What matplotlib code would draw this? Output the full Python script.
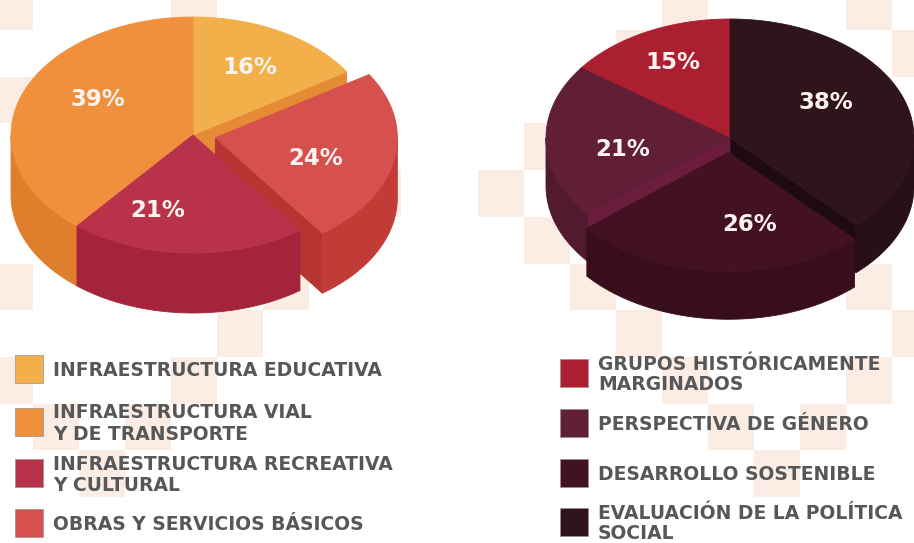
import numpy as np
import matplotlib
matplotlib.use("Agg")
import matplotlib.pyplot as plt
from matplotlib.patches import Polygon, Rectangle

# ---- data -------------------------------------------------------------
left_labels = ["INFRAESTRUCTURA EDUCATIVA",
               "INFRAESTRUCTURA VIAL\nY DE TRANSPORTE",
               "INFRAESTRUCTURA RECREATIVA\nY CULTURAL",
               "OBRAS Y SERVICIOS BÁSICOS"]
left_values = [16, 39, 21, 24]
left_top = ["#F3B04A", "#F0903D", "#B8324A", "#D6504D"]
left_side = ["#E6963C", "#DF7F2E", "#A4243B", "#C33B37"]
left_face = ["#E58A35", "#D7772B", "#9A2036", "#B63431"]
left_pie_order = [0, 3, 2, 1]          # clockwise from 12 o'clock
left_explode = [0, 0, 0, 0.125]

right_labels = ["GRUPOS HISTÓRICAMENTE\nMARGINADOS",
                "PERSPECTIVA DE GÉNERO",
                "DESARROLLO SOSTENIBLE",
                "EVALUACIÓN DE LA POLÍTICA\nSOCIAL"]
right_values = [15, 21, 26, 38]
right_top = ["#AB1F30", "#601F37", "#421222", "#2F141B"]
right_side = ["#951A29", "#521A2F", "#380E1C", "#27101A"]
right_face = ["#8C1826", "#6C1C3D", "#300C18", "#1D0B11"]
right_pie_order = [3, 2, 1, 0]
right_explode = [0, 0, 0.12, 0]

# label placement inside each wedge: (angle shift in degrees, radius fraction)
left_label_pos = [(0, 0.65), (10, 0.60), (15, 0.67), (7, 0.58)]
right_label_pos = [(1, 0.71), (-8, 0.59), (-14, 0.62), (-8, 0.60)]

LEGEND_TEXT = "#57575A"
PEACH = "#FBEDE3"

# ---- figure -----------------------------------------------------------
W, H = 914, 543
fig = plt.figure(figsize=(W / 100, H / 100), dpi=100)
ax = fig.add_axes([0, 0, 1, 1])
ax.set_xlim(0, W)
ax.set_ylim(H, 0)
ax.axis("off")

# checkered backdrop
CW, CH = 46.0, 46.7
left_cells = [(-1, -1), (-1, 1), (3, -1), (-1, 5), (5, 5), (4, 6), (-1, 7),
              (3, 7), (0, 8), (2, 8), (1, 9), (7, 3)]
right_cells = [(1, 2), (0, 3), (1, 4), (2, 5), (3, 6), (4, -1), (3, 0),
               (8, -1), (9, 0), (8, 5), (9, 6), (4, 7), (5, 8), (6, 9),
               (7, 8), (8, 7)]
for (x0, y0, cells) in [(33, 30, left_cells), (478, 30, right_cells)]:
    for i, j in cells:
        ax.add_patch(Rectangle((x0 + i * CW, y0 + j * CH), CW, CH,
                               facecolor=PEACH, edgecolor="none", zorder=0))


def pt(cx, cy, rx, ry, theta, r=1.0):
    t = np.radians(theta)
    return cx + r * rx * np.sin(t), cy - r * ry * np.cos(t)


def arc(cx, cy, rx, ry, a0, a1, n=None):
    if n is None:
        n = max(int(abs(a1 - a0) * 1.5), 2)
    t = np.radians(np.linspace(a0, a1, n))
    return np.column_stack([cx + rx * np.sin(t), cy - ry * np.cos(t)])


def pie3d(values, order, explode, top, side, face, label_pos,
          cx, cy, rx, ry, depth, z=1):
    total = float(sum(values))
    wedges = []
    a = 0.0
    for k in order:
        span = 360.0 * values[k] / total
        wedges.append((k, a, a + span))
        a += span
    # draw back-to-front
    wedges.sort(key=lambda w: -np.cos(np.radians((w[1] + w[2]) / 2)))
    zz = z
    for k, a0, a1 in wedges:
        am = (a0 + a1) / 2
        e = explode[k]
        ox, oy = e * rx * np.sin(np.radians(am)), -e * ry * np.cos(np.radians(am))
        ccx, ccy = cx + ox, cy + oy
        # radial faces that point toward the viewer
        for ang, normal in [(a0, a0 - 90), (a1, a1 + 90)]:
            if np.cos(np.radians(normal)) < 0:
                px, py = pt(ccx, ccy, rx, ry, ang)
                poly = [(ccx, ccy), (px, py), (px, py + depth), (ccx, ccy + depth)]
                ax.add_patch(Polygon(poly, closed=True, facecolor=face[k],
                                     edgecolor=face[k], lw=0.6, zorder=zz))
        # outer wall on the front half
        s0, s1 = max(a0, 90), min(a1, 270)
        if s1 > s0:
            upper = arc(ccx, ccy, rx, ry, s0, s1)
            lower = upper[::-1] + np.array([0, depth])
            ax.add_patch(Polygon(np.vstack([upper, lower]), closed=True,
                                 facecolor=side[k], edgecolor=side[k],
                                 lw=0.6, zorder=zz))
        # top surface
        rim = arc(ccx, ccy, rx, ry, a0, a1)
        ax.add_patch(Polygon(np.vstack([[ccx, ccy], rim]), closed=True,
                             facecolor=top[k], edgecolor=top[k], lw=0.6,
                             zorder=zz + 0.5))
        shift, frac = label_pos[k]
        lx, ly = pt(ccx, ccy, rx, ry, am + shift, frac)
        ax.text(lx, ly, f"{values[k]}%", color="#FDF3F1", fontsize=16.5,
                fontweight="bold", ha="center", va="center", zorder=50)
        zz += 1


pie3d(left_values, left_pie_order, left_explode, left_top, left_side,
      left_face, left_label_pos, cx=193, cy=135, rx=182, ry=118, depth=60)
pie3d(right_values, right_pie_order, right_explode, right_top, right_side,
      right_face, right_label_pos, cx=730, cy=138, rx=184, ry=119, depth=48)


def legend(labels, colors, x_box, x_text, y_centers, gap=21):
    for lab, col, yc in zip(labels, colors, y_centers):
        ax.add_patch(Rectangle((x_box, yc - 14), 28, 28, facecolor=col,
                               edgecolor="#9a8f8f", lw=0.5, zorder=5))
        lines = lab.split("\n")
        y0 = yc - gap * (len(lines) - 1) / 2
        for n, line in enumerate(lines):
            ax.text(x_text, y0 + n * gap, line, color=LEGEND_TEXT,
                    fontsize=13.5, fontweight="bold", ha="left",
                    va="center_baseline", zorder=6)


legend(left_labels, left_top, 15, 53, [369, 421.5, 473, 522.5])
legend(right_labels, right_top, 560, 598, [372.5, 422.5, 472.5, 521.5], gap=20)

fig.savefig("out.png", dpi=100)
